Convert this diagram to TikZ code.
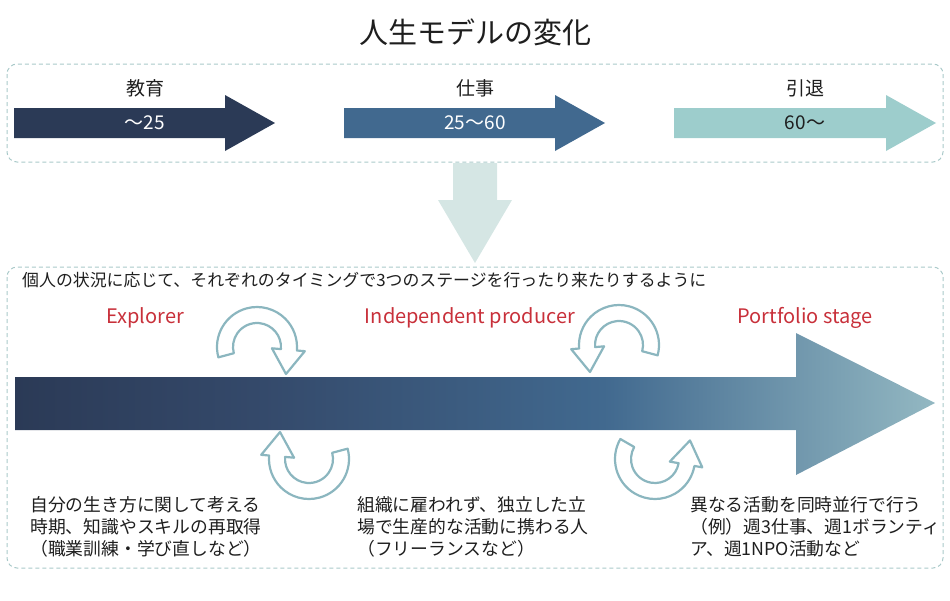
\documentclass[tikz,border=0pt]{standalone}
\usepackage{fontspec}
\setmainfont{Noto Sans CJK JP}
\usepackage{tikz}
\usepackage{xcolor}

\definecolor{navy}{HTML}{2B3A56}
\definecolor{steel}{HTML}{41698F}
\definecolor{mint}{HTML}{9DCDCC}
\definecolor{pale}{HTML}{D5E6E4}
\definecolor{frame}{HTML}{A9C9C9}
\definecolor{turncol}{HTML}{8BB6BF}
\definecolor{stagered}{HTML}{C8303A}
\definecolor{ink}{HTML}{1E1E1E}
\definecolor{fade}{HTML}{93B8C2}
\definecolor{navysteel}{HTML}{34496A}
\pgfdeclarehorizontalshading{lifeflow}{100bp}{color(0bp)=(navy); color(25bp)=(navy);
  color(38bp)=(navysteel); color(57bp)=(steel); color(75bp)=(fade); color(100bp)=(fade)}

\tikzset{
  turnarrow/.pic={
    \draw[turnline,yscale=-1] (195:40) arc[start angle=195,end angle=-5,radius=40]
      -- (-5:48) -- (29,-27) -- (-5:15) -- (-5:24)
      arc[start angle=-5,end angle=195,radius=24] -- cycle;
  }
}

\begin{document}
\begin{tikzpicture}[x=1pt,y=-1pt,
  box/.style={draw=frame,line width=1pt,dash pattern=on 4pt off 3pt,rounded corners=10pt},
  turnline/.style={draw=turncol,line width=2.2pt,fill=white,line join=round},
  stagename/.style={font=\fontsize{19}{20}\selectfont,text=ink},
  agetext/.style={font=\fontsize{19}{20}\selectfont},
  stagelabel/.style={font=\fontsize{20}{22}\selectfont,text=stagered},
  desc/.style={font=\fontsize{17.8}{22}\selectfont,text=ink,align=left,anchor=north west,inner sep=0pt}]
	\useasboundingbox (0,0) rectangle (950,600);

	\node[font=\fontsize{29}{30}\selectfont,text=ink] (title) at (475,32) {人生モデルの変化};

	\draw[box] (7,64) rectangle (943,162);

	\fill[navy] (14,108) -- (225,108) -- (225,95) -- (275,123) -- (225,151)
		-- (225,138) -- (14,138) -- cycle;
	\fill[steel] (344,108) -- (555,108) -- (555,95) -- (605,123) -- (555,151)
		-- (555,138) -- (344,138) -- cycle;
	\fill[mint] (674,108) -- (886,108) -- (886,95) -- (936,123) -- (886,151)
		-- (886,138) -- (674,138) -- cycle;

	\node[stagename] (edu) at (145,88) {教育};
	\node[stagename] (work) at (475,88) {仕事};
	\node[stagename] (retire) at (805,88) {引退};
	\node[agetext,text=white] (eduage) at (145,123) {～25};
	\node[agetext,text=white] (workage) at (475,123) {25～60};
	\node[agetext,text=ink] (retireage) at (805,123) {60～};

	\fill[pale] (453,163) -- (497,163) -- (497,200) -- (512,200) -- (475,263)
		-- (438,200) -- (453,200) -- cycle;

	\draw[box] (7,267) rectangle (943,568);

	\node[anchor=west,font=\fontsize{16.9}{18}\selectfont,text=ink,inner sep=0pt] (intro) at (22,280)
		{個人の状況に応じて、それぞれのタイミングで3つのステージを行ったり来たりするように};

	\node[stagelabel] (explorer) at (145,318) {Explorer};
	\node[stagelabel] (producer) at (470,318) {Independent producer};
	\node[stagelabel] (portfolio) at (805,318) {Portfolio stage};

	\shade[shading=lifeflow] (15,377) -- (796,377) -- (796,333) -- (935,403)
		-- (796,475) -- (796,430) -- (15,430) -- cycle;

	\pic at (257,347) {turnarrow};
	\pic[xscale=-1] at (619,345) {turnarrow};
	\pic[rotate=180] at (309,459) {turnarrow};
	\pic[rotate=-15,yscale=-1] at (655,459) {turnarrow};

	\node[desc] (explorertext) at (30,496)
		{自分の生き方に関して考える\\時期、知識やスキルの再取得\\（職業訓練・学び直しなど）};
	\node[desc] (producertext) at (357,496)
		{組織に雇われず、独立した立\\場で生産的な活動に携わる人\\（フリーランスなど）};
	\node[desc] (portfoliotext) at (690,496)
		{異なる活動を同時並行で行う\\（例）週3仕事、週1ボランティ\\ア、週1NPO活動など};
\end{tikzpicture}
\end{document}
